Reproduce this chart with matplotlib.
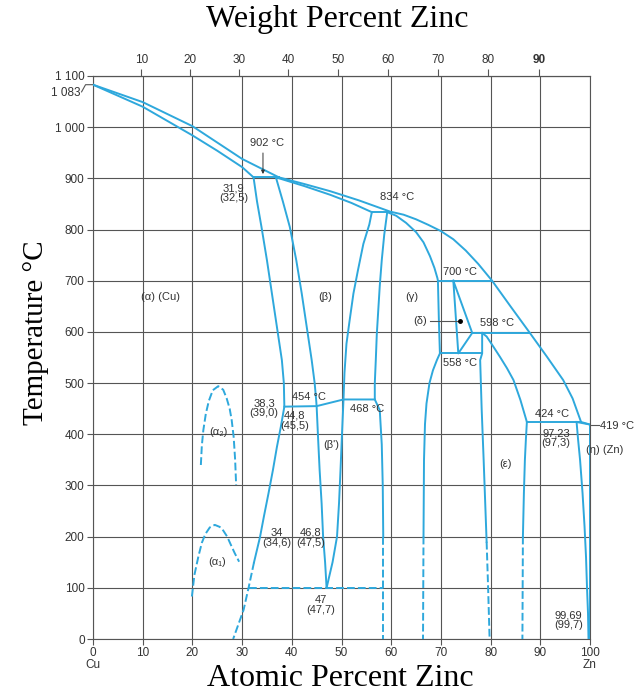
import numpy as np
import matplotlib.pyplot as plt

# phase boundaries of the Cu-Zn diagram: atomic % Zn and temperature in C
liq_x = [0, 10, 20, 30, 37.4, 42.5, 47.7, 53.5, 59.8, 62.5, 65, 67.5, 70, 72.5, 75,
         77.5, 80.3, 84, 87.9, 91.3, 94.6, 96.5, 98.2, 100]
liq_t = [1083, 1049, 1002, 938, 902, 889, 875, 857, 835, 829, 820, 809, 797, 781, 759,
         733, 700, 650, 598, 552, 506, 470, 424, 419]

sol_a_x = [0, 10, 20, 25, 30, 32.3]
sol_a_t = [1083, 1040, 984, 954, 922, 902]

sol_b_x = [36.8, 42.5, 47.7, 52.0, 56.1]
sol_b_t = [902, 885, 868, 852, 834]

solv_a_x = [32.3, 33.0, 33.9, 35.0, 36.0, 37.0, 38.0, 38.4, 38.5, 37.8, 37.0, 36.2,
            35.3, 34.4, 33.6, 32.4]
solv_a_t = [902, 855, 805, 740, 675, 610, 545, 500, 454, 415, 375, 330, 284, 240, 199, 150]
solv_a_dash_x = [32.4, 31.3, 30.3, 28.2]
solv_a_dash_t = [150, 100, 57, 0]

beta_l_x = [36.8, 38.2, 39.6, 40.9, 42.0, 43.0, 44.0, 44.6, 44.9, 45.0, 45.3, 45.6,
            46.0, 46.3, 46.7, 47.0]
beta_l_t = [902, 855, 805, 740, 675, 610, 545, 500, 467, 454, 390, 330, 265, 200, 150, 100]
beta_r_x = [56.1, 55.6, 54.4, 53.3, 52.4, 51.6, 51.0, 50.6, 50.4, 50.1, 49.8, 49.5,
            49.1, 48.2, 47.0]
beta_r_t = [834, 810, 772, 720, 675, 620, 577, 520, 468, 400, 330, 265, 200, 150, 100]

order_x = [38.5, 45.0, 50.4, 56.7]
order_t = [454, 455, 468, 468]

gam_l_x = [59.2, 58.6, 58.1, 57.7, 57.4, 57.1, 56.9, 56.7, 56.7, 57.7, 58.1, 58.3, 58.4]
gam_l_t = [834, 790, 740, 690, 643, 595, 545, 500, 468, 447, 380, 300, 200]
gam_l_dash_x = [58.4, 58.4]
gam_l_dash_t = [200, 0]

gam_r_x = [59.2, 61.0, 63.0, 65.0, 66.5, 67.8, 68.7, 69.3, 69.4, 69.6, 69.8,
           69.2, 68.4, 67.7, 67.1, 66.8, 66.6, 66.5]
gam_r_t = [834, 827, 813, 795, 775, 748, 725, 705, 700, 620, 558,
           545, 525, 500, 460, 420, 350, 200]
gam_r_dash_x = [66.5, 66.4]
gam_r_dash_t = [200, 0]

delta_x = [72.5, 76.3, 73.5, 72.5]
delta_t = [700, 598, 558, 700]

eps_l_x = [78.3, 78.3, 77.9, 78.2, 78.6, 78.9, 79.2]
eps_l_t = [598, 558, 545, 450, 350, 270, 190]
eps_l_dash_x = [79.2, 79.5, 79.8]
eps_l_dash_t = [190, 100, 0]

eps_sol_x = [78.3, 79.2, 80.5, 81.9, 83.3, 84.6, 86.0, 87.3]
eps_sol_t = [598, 591, 572, 551, 529, 506, 467, 424]

eps_r_x = [87.3, 87.1, 86.9, 86.7, 86.5]
eps_r_t = [424, 390, 350, 285, 200]
eps_r_dash_x = [86.5, 86.4]
eps_r_dash_t = [200, 0]

eta_x = [97.3, 97.6, 98.0, 98.5, 98.9, 99.2, 99.4, 99.6, 99.7]
eta_t = [424, 390, 350, 285, 220, 160, 100, 50, 0]
eta_sol_x = [97.3, 100]
eta_sol_t = [424, 419]
zn_x = [100, 100]
zn_t = [419, 0]

iso_x = [[32.3, 37.4], [56.1, 59.8], [69.4, 80.3], [76.3, 87.9], [69.8, 78.3], [87.3, 98.2]]
iso_t = [902, 834, 700, 598, 558, 424]

low_x = [31.3, 58.4]
low_t = [100, 100]

a2_x = [21.7, 21.9, 22.2, 22.7, 23.3, 24.1, 25.2, 26.2, 26.9, 27.5, 27.9, 28.3, 28.6, 28.8]
a2_t = [340, 378, 408, 440, 465, 486, 494, 487, 470, 450, 428, 395, 350, 301]
a1_x = [19.9, 20.4, 21.2, 21.9, 22.6, 23.5, 24.5, 25.5, 26.2, 27.0, 27.6, 28.5, 29.4]
a1_t = [83, 125, 161, 188, 205, 218, 223, 219, 212, 200, 187, 168, 151]

wt_ticks = [10, 20, 30, 40, 50, 60, 70, 80, 90]
at_ticks = list(range(0, 101, 10))
t_ticks = list(range(0, 1101, 100))

labels = [
    ('902 °C', 35.1, 970), ('31,9\n(32,5)', 28.3, 871), ('834 °C', 61.1, 864),
    ('700 °C', 73.8, 717), ('598 °C', 81.2, 618), ('558 °C', 73.8, 539),
    ('(γ)', 64.1, 669), ('(β)', 46.7, 669), ('(α) (Cu)', 13.5, 668),
    ('454 °C', 43.4, 473), ('468 °C', 55.1, 450), ('38,3\n(39,0)', 34.4, 451),
    ('44,8\n(45,5)', 40.6, 426), ("(β')", 48.0, 379), ('(α₂)', 25.2, 405),
    ('(α₁)', 24.9, 151), ('34\n(34,6)', 37.0, 198), ('46,8\n(47,5)', 43.7, 198),
    ('47\n(47,7)', 45.8, 66), ('424 °C', 92.3, 439), ('97,23\n(97,3)', 93.2, 392),
    ('(ε)', 82.9, 342), ('99,69\n(99,7)', 95.7, 37), ('(δ)', 65.8, 621),
]

blue = '#2ea8dc'
grey = '#555555'
txt = '#333333'
sans = ['Liberation Sans', 'DejaVu Sans']
serif = 'Liberation Serif'


def at2wt(a):
    a = np.asarray(a, dtype=float)
    return 65.38 * a / (65.38 * a + 63.55 * (100 - a)) * 100


def wt2at(w):
    w = np.asarray(w, dtype=float)
    return (w / 65.38) / (w / 65.38 + (100 - w) / 63.55) * 100


fig = plt.figure(figsize=(6.36, 6.93), dpi=100)
ax = fig.add_axes([93 / 636, 1 - 639 / 693, 497 / 636, 563 / 693])
ax.set_xlim(0, 100)
ax.set_ylim(0, 1100)

solid = [(liq_x, liq_t), (sol_a_x, sol_a_t), (sol_b_x, sol_b_t), (solv_a_x, solv_a_t),
         (beta_l_x, beta_l_t), (beta_r_x, beta_r_t), (order_x, order_t),
         (gam_l_x, gam_l_t), (gam_r_x, gam_r_t), (delta_x, delta_t),
         (eps_l_x, eps_l_t), (eps_sol_x, eps_sol_t), (eps_r_x, eps_r_t),
         (eta_x, eta_t), (eta_sol_x, eta_sol_t), (zn_x, zn_t)]
dashed = [(solv_a_dash_x, solv_a_dash_t), (gam_l_dash_x, gam_l_dash_t),
          (gam_r_dash_x, gam_r_dash_t), (eps_l_dash_x, eps_l_dash_t),
          (eps_r_dash_x, eps_r_dash_t), (a2_x, a2_t), (a1_x, a1_t), (low_x, low_t)]

for xs, ts in solid:
    ax.plot(xs, ts, color=blue, lw=1.4, zorder=3, solid_joinstyle='round')
for xs, t in zip(iso_x, iso_t):
    ax.plot(xs, [t, t], color=blue, lw=1.4, zorder=3)
for xs, ts in dashed:
    ax.plot(xs, ts, color=blue, lw=1.4, ls=(0, (4, 1.6)), zorder=3)

for s, x, t in labels:
    ax.text(x, t, s, ha='center', va='center', fontsize=8, color=txt,
            family=sans, linespacing=1.0, zorder=4)

# small pointers and leaders
ax.annotate('', xy=(34.2, 903), xytext=(34.2, 955),
            arrowprops=dict(arrowstyle='-|>', color=txt, lw=0.7, mutation_scale=5))
ax.plot([67.8, 73.8], [621, 621], color=grey, lw=0.8, zorder=4)
ax.plot([73.8], [621], 'o', color='black', ms=2.5, zorder=5)
ax.plot([100, 101.8], [419, 419], color=grey, lw=0.8, clip_on=False)
ax.text(102.0, 417, '419 °C', ha='left', va='center', fontsize=8, color=txt,
        family=sans, clip_on=False)
ax.text(103.0, 369, '(η) (Zn)', ha='center', va='center', fontsize=8, color=txt,
        family=sans, clip_on=False)
ax.plot([-2.3, -1.5, 0], [1069, 1083, 1083], color=grey, lw=0.8, clip_on=False)
ax.text(-2.5, 1066, '1 083', ha='right', va='center', fontsize=8.5, color=txt,
        family=sans, clip_on=False)

ax.set_xticks(at_ticks)
ax.set_xticklabels(['0\nCu'] + [str(v) for v in at_ticks[1:-1]] + ['100\nZn'],
                   family=sans, linespacing=0.95)
ax.set_yticks(t_ticks)
ax.set_yticklabels([f'{v:,}'.replace(',', ' ') for v in t_ticks], family=sans)
ax.tick_params(direction='out', length=4, width=0.8, color=grey, labelcolor=txt,
               labelsize=8.5, pad=2)
ax.grid(True, color=grey, lw=0.8, zorder=0)
ax.set_axisbelow(True)
for sp in ax.spines.values():
    sp.set_color(grey)
    sp.set_linewidth(0.8)

sec = ax.secondary_xaxis('top', functions=(at2wt, wt2at))
sec.set_xticks(wt_ticks)
sec.set_xticklabels([str(v) for v in wt_ticks], family=sans)
sec.tick_params(direction='out', length=5, width=0.8, color=grey, labelcolor=txt,
                labelsize=8.5, pad=2)
sec.get_xticklabels()[-1].set_fontweight('bold')
sec.spines['top'].set_color(grey)

fig.text(0.531, 1 - 20 / 693, 'Weight Percent Zinc', family=serif, fontsize=23,
         ha='center', va='center')
fig.text(0.535, 1 - 679 / 693, 'Atomic Percent Zinc', family=serif, fontsize=23,
         ha='center', va='center')
fig.text(0.057, 0.52, 'Temperature °C', family=serif, fontsize=21,
         ha='center', va='center', rotation=90)

fig.savefig('out.png', dpi=100)
